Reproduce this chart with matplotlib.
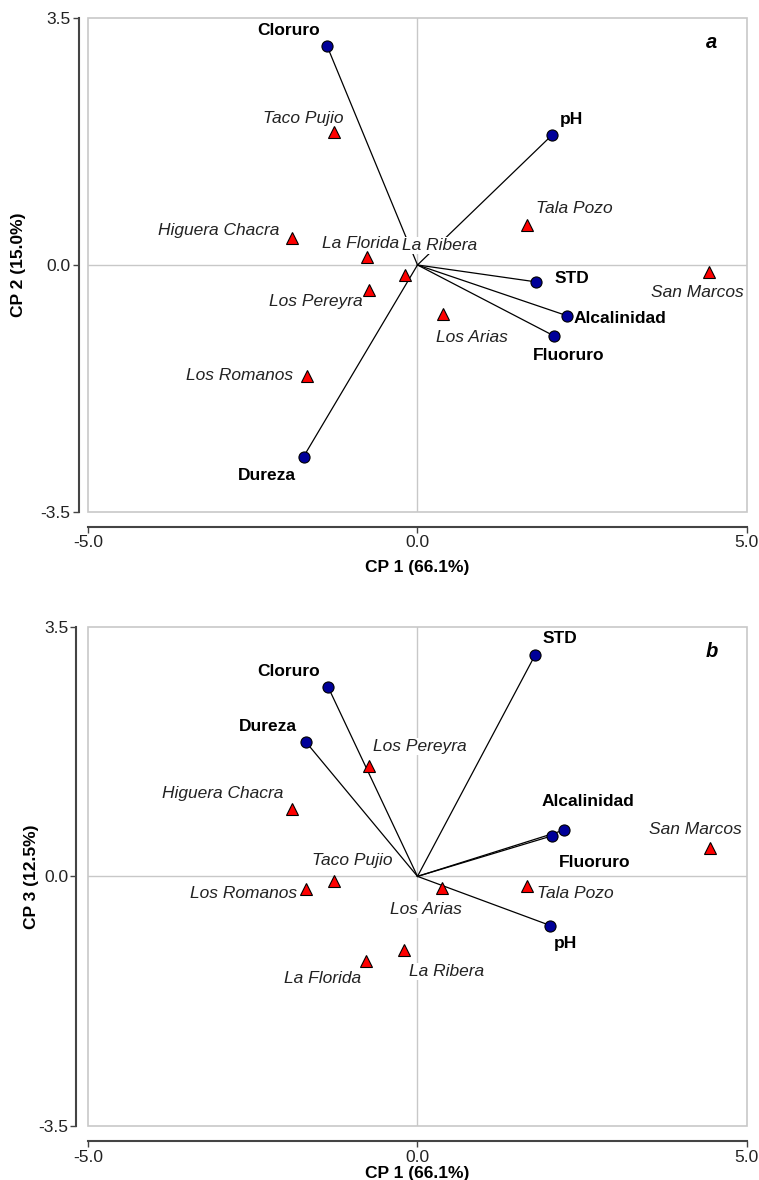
import matplotlib.pyplot as plt
from matplotlib.patches import Rectangle

plt.rcParams['font.family'] = ['Liberation Sans', 'DejaVu Sans']

# Variables (loadings) and sites (scores)
variables = ["Cloruro", "pH", "STD", "Alcalinidad", "Fluoruro", "Dureza"]
var_cp1 = [-1.37, 2.04, 1.80, 2.27, 2.08, -1.73]
var_cp2 = [3.10, 1.84, -0.24, -0.72, -1.01, -2.72]
var_cp1_b = [-1.36, 2.02, 1.79, 2.23, 2.05, -1.70]
var_cp3 = [2.66, -0.69, 3.11, 0.65, 0.57, 1.89]

sites = ["Taco Pujio", "Higuera Chacra", "La Florida", "La Ribera", "Los Pereyra",
         "Los Romanos", "Los Arias", "Tala Pozo", "San Marcos"]
site_cp1 = [-1.27, -1.90, -0.77, -0.19, -0.73, -1.68, 0.38, 1.66, 4.43]
site_cp2 = [1.89, 0.38, 0.11, -0.14, -0.36, -1.58, -0.70, 0.57, -0.10]
site_cp1_b = [-1.27, -1.91, -0.78, -0.20, -0.74, -1.69, 0.37, 1.66, 4.44]
site_cp3 = [-0.06, 0.95, -1.18, -1.03, 1.55, -0.18, -0.16, -0.14, 0.40]

# label offsets in pixels (dx, dy, ha); dy positive = downward
var_off_a = {"Cloruro": (-39, -16, "center"), "pH": (8, -16, "left"),
             "STD": (19, -3, "left"), "Alcalinidad": (7, 3, "left"),
             "Fluoruro": (14, 19, "center"), "Dureza": (-37, 19, "center")}
site_off_a = {"Taco Pujio": (-31, -13, "center"), "Higuera Chacra": (-13, -8, "right"),
              "La Florida": (-45, -14, "left"), "La Ribera": (35, -29, "center"),
              "Los Pereyra": (-7, 11, "right"), "Los Romanos": (-14, -1, "right"),
              "Los Arias": (29, 23, "center"), "Tala Pozo": (9, -16, "left"),
              "San Marcos": (-12, 20, "center")}
var_off_b = {"Cloruro": (-39, -15, "center"), "pH": (15, 18, "center"),
             "STD": (25, -16, "center"), "Alcalinidad": (24, -29, "center"),
             "Fluoruro": (42, 27, "center"), "Dureza": (-38, -15, "center")}
site_off_b = {"Taco Pujio": (18, -20, "center"), "Higuera Chacra": (-8, -15, "right"),
              "La Florida": (-44, 18, "center"), "La Ribera": (42, 22, "center"),
              "Los Pereyra": (4, -19, "left"), "Los Romanos": (-9, 4, "right"),
              "Los Arias": (-16, 22, "center"), "Tala Pozo": (10, 7, "left"),
              "San Marcos": (-14, -18, "center")}

PX = 72 / 100  # pixel -> points at dpi 100
FS = 12.5


def draw_panel(ax, vx, vy, sx, sy, voff, soff, ylabel, tag, ylab_x, xlab_y, left_out):
    ax.set_xlim(-5, 5)
    ax.set_ylim(-3.5, 3.5)
    ax.add_patch(Rectangle((0, 0), 1, 1, transform=ax.transAxes, fill=False,
                           edgecolor="#c8c8c8", lw=1.2, zorder=1, clip_on=False))
    ax.axhline(0, color="#c8c8c8", lw=1, zorder=1)
    ax.axvline(0, color="#c8c8c8", lw=1, zorder=1)

    for x, y in zip(vx, vy):
        ax.plot([0, x], [0, y], color="black", lw=0.9, zorder=2)

    for name, x, y in zip(sites, sx, sy):
        dx, dy, ha = soff[name]
        ax.annotate(name, (x, y), xytext=(dx * PX, -dy * PX), textcoords="offset points",
                    ha=ha, va="center", fontsize=FS, style="italic", color="#222222",
                    bbox=dict(boxstyle="square,pad=0.05", fc="white", ec="none"), zorder=3)
    for name, x, y in zip(variables, vx, vy):
        dx, dy, ha = voff[name]
        ax.annotate(name, (x, y), xytext=(dx * PX, -dy * PX), textcoords="offset points",
                    ha=ha, va="center", fontsize=FS, fontweight="bold", color="black",
                    bbox=dict(boxstyle="square,pad=0.05", fc="white", ec="none"), zorder=3)

    ax.plot(sx, sy, "^", ms=9, mfc="#ff0000", mec="black", mew=0.8, zorder=4, ls="none")
    ax.plot(vx, vy, "o", ms=8, mfc="#000099", mec="black", mew=0.8, zorder=4, ls="none")

    ax.text(0.947, 0.95, tag, transform=ax.transAxes, fontsize=14.5, fontweight="bold",
            style="italic", ha="center", va="center")

    for s in ["top", "right"]:
        ax.spines[s].set_visible(False)
    ax.spines["left"].set_position(("outward", left_out))
    ax.spines["bottom"].set_position(("outward", 11))
    ax.spines["left"].set_color("#444444")
    ax.spines["bottom"].set_color("#444444")
    ax.spines["left"].set_linewidth(1.5)
    ax.spines["bottom"].set_linewidth(1.5)
    ax.set_xticks([-5, 0, 5])
    ax.set_xticklabels(["-5.0", "0.0", "5.0"])
    ax.set_yticks([-3.5, 0, 3.5])
    ax.set_yticklabels(["-3.5", "0.0", "3.5"])
    ax.tick_params(length=4, width=1, color="#444444", labelsize=FS, labelcolor="#222222", pad=2)
    ax.set_xlabel("CP 1 (66.1%)", fontsize=FS, fontweight="bold")
    ax.set_ylabel(ylabel, fontsize=FS, fontweight="bold")
    ax.xaxis.set_label_coords(0.5, xlab_y)
    ax.yaxis.set_label_coords(ylab_x, 0.5)


fig = plt.figure(figsize=(7.59, 11.8), dpi=100)
ax1 = fig.add_axes([0.1163, 0.5664, 0.8675, 0.4181])
ax2 = fig.add_axes([0.1163, 0.04576, 0.8675, 0.4231])

draw_panel(ax1, var_cp1, var_cp2, site_cp1, site_cp2, var_off_a, site_off_a,
           "CP 2 (15.0%)", "a", -0.0939, -0.097, 7)
draw_panel(ax2, var_cp1_b, var_cp3, site_cp1_b, site_cp3, var_off_b, site_off_b,
           "CP 3 (12.5%)", "b", -0.0749, -0.0795, 8.5)

fig.savefig("out.png", dpi=100)
